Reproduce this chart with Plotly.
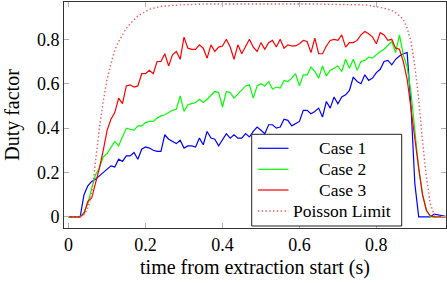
import numpy as np
import plotly.graph_objects as go

# time grid (s)
t = np.round(np.arange(0, 0.985, 0.01), 2)

case1 = [0, 0, 0, 0, 0.10, 0.14, 0.16, 0.17, 0.185, 0.20,
         0.215, 0.23, 0.225, 0.26, 0.25, 0.275, 0.275, 0.29, 0.26, 0.305,
         0.315, 0.31, 0.30, 0.295, 0.295, 0.37, 0.35, 0.34, 0.33, 0.345,
         0.31, 0.32, 0.32, 0.315, 0.355, 0.325, 0.385, 0.355, 0.35, 0.32,
         0.35, 0.375, 0.355, 0.37, 0.355, 0.355, 0.375, 0.36, 0.385, 0.405,
         0.39, 0.375, 0.415, 0.415, 0.40, 0.405, 0.44, 0.435, 0.41, 0.42,
         0.43, 0.48, 0.48, 0.465, 0.475, 0.49, 0.45, 0.52, 0.49, 0.54,
         0.51, 0.54, 0.55, 0.57, 0.63, 0.61, 0.60, 0.64, 0.615, 0.625,
         0.65, 0.665, 0.70, 0.705, 0.685, 0.71, 0.725, 0.735, 0.74, 0.50,
         0.15, 0, 0, 0, 0, 0.012, 0.008, 0.004, 0.003]

case2 = [0, 0, 0, 0, 0.02, 0.06, 0.13, 0.19, 0.22, 0.27,
         0.285, 0.31, 0.34, 0.32, 0.36, 0.40, 0.395, 0.39, 0.41, 0.41,
         0.425, 0.43, 0.43, 0.445, 0.455, 0.46, 0.47, 0.48, 0.485, 0.545,
         0.475, 0.505, 0.51, 0.515, 0.53, 0.515, 0.53, 0.55, 0.565, 0.56,
         0.495, 0.565, 0.56, 0.535, 0.555, 0.57, 0.59, 0.595, 0.535, 0.59,
         0.60, 0.59, 0.61, 0.575, 0.585, 0.58, 0.615, 0.61, 0.625, 0.645,
         0.59, 0.64, 0.64, 0.675, 0.655, 0.625, 0.68, 0.635, 0.66, 0.67,
         0.68, 0.655, 0.71, 0.67, 0.71, 0.66, 0.70, 0.705, 0.72, 0.715,
         0.73, 0.745, 0.755, 0.775, 0.79, 0.74, 0.82, 0.73, 0.675, 0.56,
         0.38, 0.22, 0.10, 0.03, 0, 0, 0, 0, 0]

case3 = [0, 0, 0, 0, 0.015, 0.07, 0.085, 0.15, 0.22, 0.30,
         0.39, 0.44, 0.47, 0.535, 0.51, 0.59, 0.595, 0.585, 0.59, 0.645,
         0.645, 0.66, 0.645, 0.70, 0.70, 0.735, 0.68, 0.73, 0.745, 0.71,
         0.81, 0.76, 0.755, 0.755, 0.775, 0.76, 0.715, 0.775, 0.745, 0.765,
         0.77, 0.80, 0.765, 0.71, 0.775, 0.735, 0.77, 0.80, 0.765, 0.745,
         0.785, 0.755, 0.785, 0.795, 0.765, 0.80, 0.76, 0.775, 0.77, 0.77,
         0.78, 0.795, 0.79, 0.74, 0.805, 0.735, 0.735, 0.77, 0.795, 0.80,
         0.795, 0.82, 0.765, 0.785, 0.785, 0.795, 0.82, 0.835, 0.825, 0.81,
         0.78, 0.83, 0.82, 0.795, 0.80, 0.76, 0.755, 0.70, 0.62, 0.48,
         0.35, 0.22, 0.10, 0.03, 0.005, 0, 0, 0, 0]

poisson = [0, 0, 0, 0, 0.01, 0.04, 0.10, 0.25, 0.40, 0.52,
           0.62, 0.69, 0.75, 0.79, 0.82, 0.85, 0.87, 0.89, 0.905, 0.915,
           0.925, 0.935, 0.94, 0.945, 0.948, 0.95, 0.952, 0.953, 0.954, 0.955,
           0.956, 0.957, 0.957, 0.958, 0.958, 0.958, 0.959, 0.959, 0.959, 0.96,
           0.96, 0.96, 0.96, 0.961, 0.961, 0.961, 0.961, 0.962, 0.962, 0.962,
           0.962, 0.962, 0.962, 0.962, 0.961, 0.961, 0.961, 0.961, 0.96, 0.96,
           0.96, 0.96, 0.96, 0.959, 0.959, 0.959, 0.958, 0.958, 0.958, 0.957,
           0.957, 0.957, 0.957, 0.956, 0.956, 0.956, 0.956, 0.955, 0.953, 0.95,
           0.948, 0.945, 0.94, 0.935, 0.93, 0.92, 0.905, 0.89, 0.85, 0.79,
           0.68, 0.53, 0.34, 0.18, 0.06, 0.01, 0, 0, 0]

xticks = [0, 0.2, 0.4, 0.6, 0.8]
yticks = [0, 0.2, 0.4, 0.6, 0.8]
series_names = ["Case 1", "Case 2", "Case 3", "Poisson Limit"]

FONT = "Liberation Serif"
colors = ["#0000ff", "#00ff00", "#ff0000", "#f05a5a"]
dashes = ["solid", "solid", "solid", "1.4px,2.4px"]
widths = [1.2, 1.2, 1.2, 1.4]

fig = go.Figure()
for name, ys, c, d, w in zip(series_names, [case1, case2, case3, poisson], colors, dashes, widths):
    fig.add_trace(go.Scatter(x=t, y=ys, mode="lines", name=name,
                             line=dict(color=c, width=w, dash=d), showlegend=False))

axis_common = dict(
    showgrid=False, zeroline=False, showline=True, linecolor="#333333", linewidth=1,
    mirror="ticks", ticks="inside", ticklen=5, tickcolor="#b0b0b0", tickwidth=1,
    tickfont=dict(family=FONT, size=18, color="black"), automargin=False,
)

# legend box drawn in paper coordinates (centered text like pgfplots)
shapes = [dict(type="rect", xref="paper", yref="paper", x0=0.4914, x1=0.884, y0=0.0088, y1=0.4146,
               line=dict(color="#222222", width=1), fillcolor="white", layer="above")]
annotations = []
row_y = [0.3527, 0.2597, 0.1681, 0.0752]
for name, c, d, w, ry in zip(series_names, colors, dashes, widths, row_y):
    shapes.append(dict(type="line", xref="paper", yref="paper", x0=0.5076, x1=0.5877, y0=ry, y1=ry,
                       line=dict(color=c, width=w, dash=d), layer="above"))
    annotations.append(dict(xref="paper", yref="paper", x=0.7285, y=ry, text=name, showarrow=False,
                            xanchor="center", yanchor="middle",
                            font=dict(family=FONT, size=17.5, color="black")))

fig.update_layout(
    width=447, height=283,
    margin=dict(l=64, r=1, t=2, b=55),
    paper_bgcolor="white", plot_bgcolor="white",
    font=dict(family=FONT, color="black"),
    xaxis=dict(range=[-0.012, 0.981], tickvals=xticks, ticktext=["0", "0.2", "0.4", "0.6", "0.8"],
               title=dict(text="time from extraction start (s)", font=dict(family=FONT, size=20), standoff=6),
               **axis_common),
    yaxis=dict(range=[-0.05, 0.968], tickvals=yticks, ticktext=["0", "0.2", "0.4", "0.6", "0.8"],
               title=dict(text="Duty factor", font=dict(family=FONT, size=20), standoff=11),
               **axis_common),
    shapes=shapes,
    annotations=annotations,
    showlegend=False,
)

fig.write_html("out.html", config={"displayModeBar": False},
               post_script="document.body.style.margin='0px';document.body.style.padding='0px';")
